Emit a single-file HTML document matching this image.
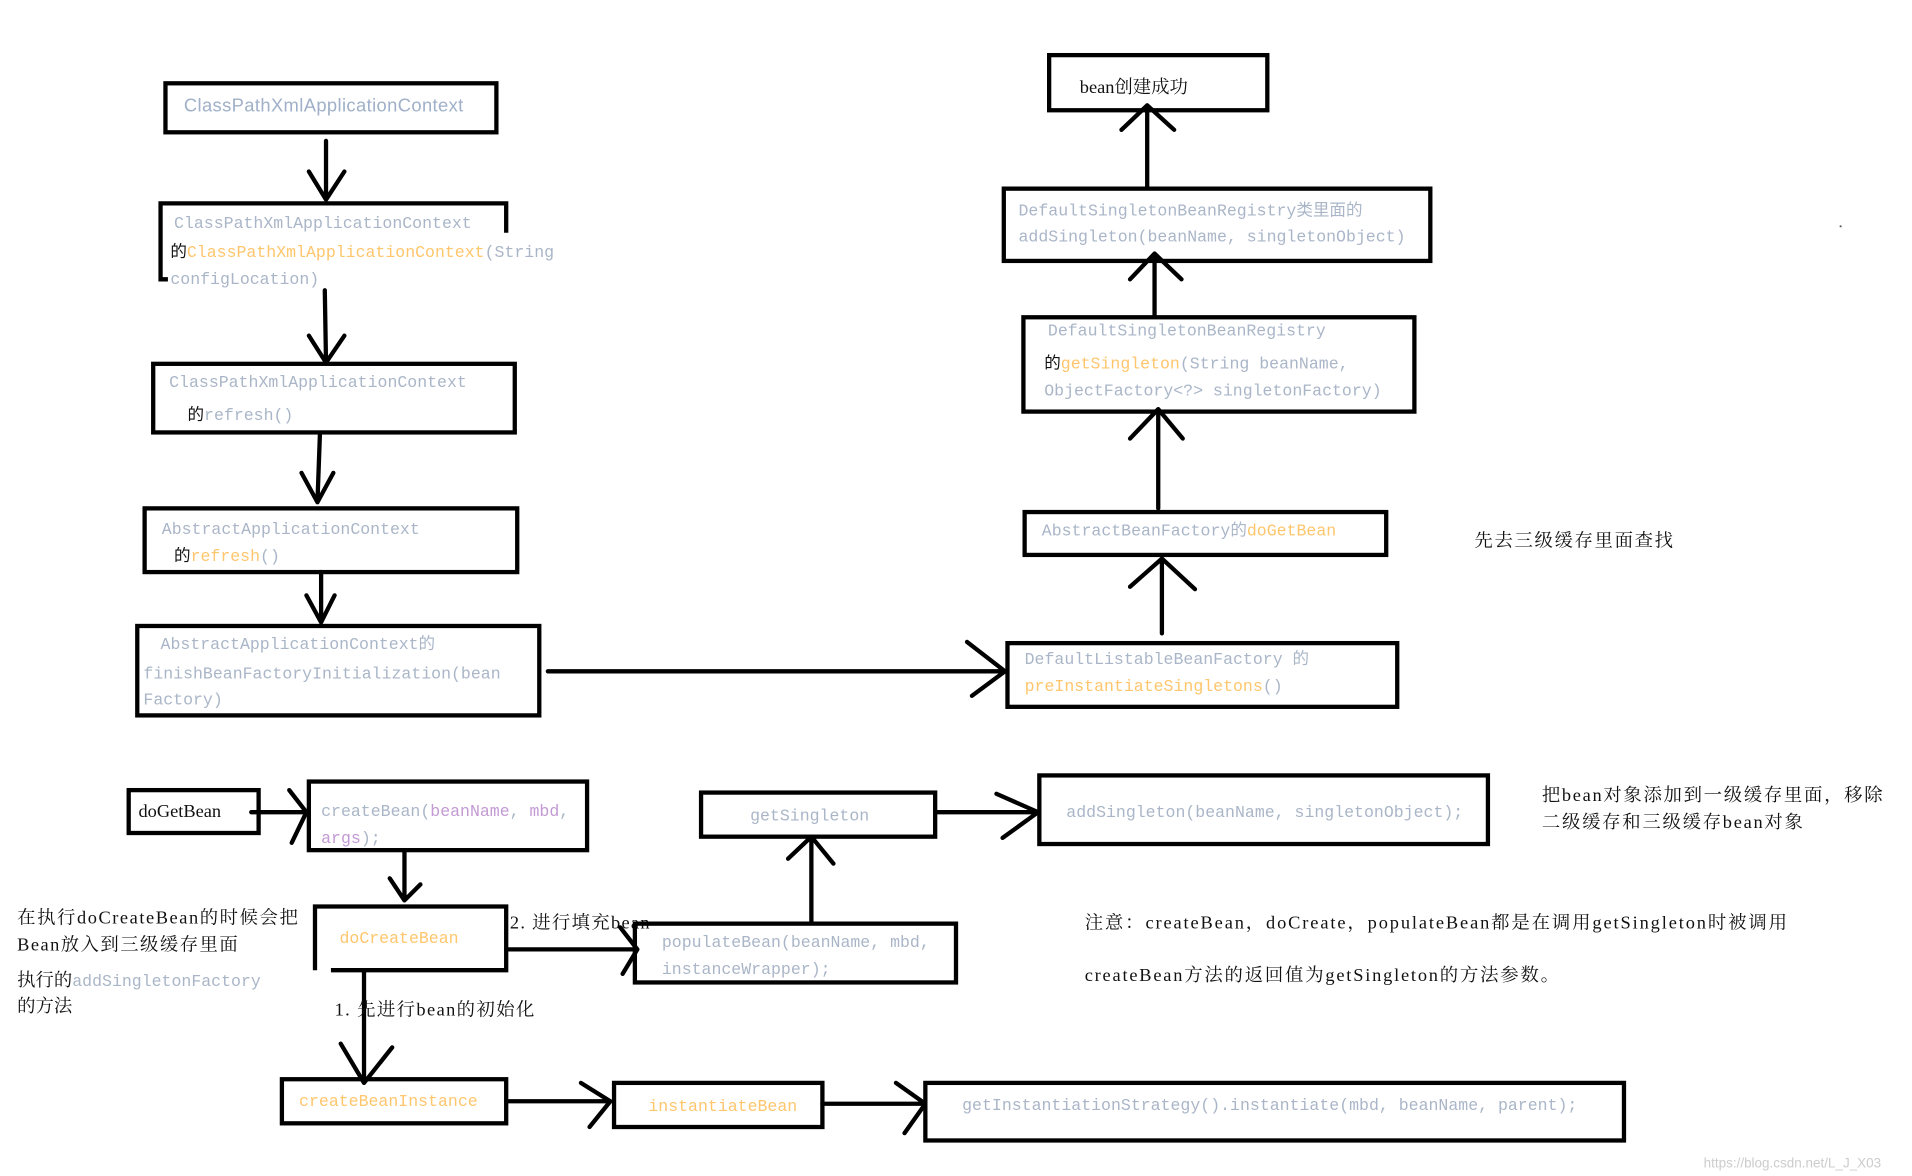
<!DOCTYPE html>
<html><head><meta charset="utf-8"><style>
html,body{margin:0;padding:0;background:#fff;}
svg{display:block;}
.b{fill:none;stroke:#000;stroke-width:3.5;}
.l{fill:none;stroke:#000;stroke-width:3.5;stroke-linecap:round;stroke-linejoin:round;}
.m{font-family:"Liberation Mono","Noto Sans CJK SC",monospace;font-size:13.5px;fill:#aab6c8;}
.s{font-family:"Liberation Serif","Noto Serif CJK SC",serif;font-size:15px;fill:#111;}
.o{fill:#ffc66d;}
.p{fill:#c39ad3;}
.k{fill:#111;}
</style></head><body>
<svg width="1912" height="1176" viewBox="0 0 1560 960" preserveAspectRatio="none" xmlns="http://www.w3.org/2000/svg">
<rect class="b" x="135" y="68" width="270" height="40"/>
<text x="150" y="91" textLength="228" style="font-family:'Liberation Sans','Noto Sans CJK SC',sans-serif;font-size:15px;fill:#9fb0c8">ClassPathXmlApplicationContext</text>
<path class="l" d="M266 115V163M252 140L266 163L281 140"/>
<path class="b" d="M413 190V166H131V228H137"/>
<text class="m" x="142" y="186">ClassPathXmlApplicationContext</text>
<text class="m" x="139" y="210"><tspan class="k">的</tspan><tspan class="o">ClassPathXmlApplicationContext</tspan>(String</text>
<text class="m" x="139" y="232">configLocation)</text>
<path class="l" d="M265 237L266 296M252 274L266 296L281 274"/>
<rect class="b" x="125" y="297" width="295" height="56"/>
<text class="m" x="138" y="316">ClassPathXmlApplicationContext</text>
<text class="m" x="153" y="343"><tspan class="k">的</tspan>refresh()</text>
<path class="l" d="M261 355L259 410M246 386L259 410L272 386"/>
<rect class="b" x="118" y="415" width="304" height="52"/>
<text class="m" x="132" y="436">AbstractApplicationContext</text>
<text class="m" x="142" y="458"><tspan class="k">的</tspan><tspan class="o">refresh</tspan>()</text>
<path class="l" d="M262 467V508M250 486L262 508L273 486"/>
<rect class="b" x="112" y="511" width="328" height="73"/>
<text class="m" x="131" y="530">AbstractApplicationContext的</text>
<text class="m" x="117" y="554">finishBeanFactoryInitialization(bean</text>
<text class="m" x="117" y="575">Factory)</text>
<path class="l" d="M447 548H820M789 524L820 548L793 568"/>
<rect class="b" x="822" y="525" width="318" height="52"/>
<text class="m" x="836" y="542">DefaultListableBeanFactory 的</text>
<text class="m o" x="836" y="564">preInstantiateSingletons<tspan fill="#aab6c8">()</tspan></text>
<path class="l" d="M948 517V456M922 479L948 456L975 481"/>
<rect class="b" x="836" y="418" width="295" height="35"/>
<text class="m" x="850" y="437">AbstractBeanFactory的<tspan class="o">doGetBean</tspan></text>
<path class="l" d="M945 415V334M922 358L945 334L965 358"/>
<rect class="b" x="835" y="259" width="319" height="77"/>
<text class="m" x="855" y="274">DefaultSingletonBeanRegistry</text>
<text class="m" x="852" y="301"><tspan class="k">的</tspan><tspan class="o">getSingleton</tspan>(String beanName,</text>
<text class="m" x="852" y="323">ObjectFactory&lt;?&gt; singletonFactory)</text>
<path class="l" d="M942 258V207M922 228L942 207L964 228"/>
<rect class="b" x="819" y="154" width="348" height="59"/>
<text class="m" x="831" y="176">DefaultSingletonBeanRegistry类里面的</text>
<text class="m" x="831" y="197">addSingleton(beanName, singletonObject)</text>
<path class="l" d="M936 152V86M915 106L936 86L958 106"/>
<rect class="b" x="856" y="45" width="178" height="45"/>
<text class="s" x="881" y="76">bean创建成功</text>
<text class="s" x="1203" y="446" textLength="162">先去三级缓存里面查找</text>
<rect x="1501" y="184" width="1.5" height="1.5" fill="#555"/>

<rect class="b" x="105" y="645" width="106" height="35"/>
<text class="s" x="113" y="667">doGetBean</text>
<path class="l" d="M205 663H250M236 645L250 663L238 688"/>
<rect class="b" x="252" y="638" width="227" height="56"/>
<text class="m" x="262" y="666">createBean(<tspan class="p">beanName</tspan>, <tspan class="p">mbd</tspan>,</text>
<text class="m" x="262" y="688"><tspan class="p">args</tspan>);</text>
<path class="l" d="M330 694V735M318 717L330 735L343 722"/>
<path class="b" d="M257 792V740H413V792H270"/>
<text class="m o" x="277" y="770">doCreateBean</text>
<text class="s" x="416" y="758" textLength="114">2. 进行填充bean</text>
<path class="l" d="M413 775H520M506 757L520 775L508 795"/>
<rect class="b" x="518" y="754" width="262" height="48"/>
<text class="m" x="540" y="773">populateBean(beanName, mbd,</text>
<text class="m" x="540" y="795">instanceWrapper);</text>
<path class="l" d="M662 752V683M643 701L662 683L680 705"/>
<rect class="b" x="572" y="647" width="191" height="36"/>
<text class="m" x="612" y="670">getSingleton</text>
<path class="l" d="M763 663H847M813 648L847 663L818 684"/>
<rect class="b" x="848" y="633" width="366" height="56"/>
<text class="m" x="870" y="667">addSingleton(beanName, singletonObject);</text>
<text class="s" x="1258" y="654" textLength="278">把bean对象添加到一级缓存里面，移除</text>
<text class="s" x="1258" y="676" textLength="213">二级缓存和三级缓存bean对象</text>
<text class="s" x="14" y="754" textLength="229">在执行doCreateBean的时候会把</text>
<text class="s" x="14" y="776" textLength="180">Bean放入到三级缓存里面</text>
<text class="s" x="14" y="805">执行的<tspan style="font-family:'Liberation Mono',monospace;font-size:13.5px;fill:#aab6c8">addSingletonFactory</tspan></text>
<text class="s" x="14" y="826">的方法</text>
<path class="l" d="M297 792V884M278 852L297 884L320 855"/>
<text class="s" x="273" y="829" textLength="163">1. 先进行bean的初始化</text>
<rect class="b" x="230" y="881" width="183" height="36"/>
<text class="m o" x="244" y="903">createBeanInstance</text>
<path class="l" d="M413 899H498M474 884L498 899L481 920"/>
<rect class="b" x="501" y="884" width="170" height="36"/>
<text class="m o" x="529" y="907">instantiateBean</text>
<path class="l" d="M671 901H755M731 884L755 901L738 925"/>
<rect class="b" x="755" y="884" width="570" height="47"/>
<text class="m" x="785" y="906">getInstantiationStrategy().instantiate(mbd, beanName, parent);</text>
<text class="s" x="885" y="758" textLength="573">注意：createBean，doCreate，populateBean都是在调用getSingleton时被调用</text>
<text class="s" x="885" y="801" textLength="387">createBean方法的返回值为getSingleton的方法参数。</text>
<text x="1390" y="953" style="font-family:'Liberation Sans',sans-serif;font-size:11px;fill:#ccc">https://blog.csdn.net/L_J_X03</text>
</svg>
</body></html>
